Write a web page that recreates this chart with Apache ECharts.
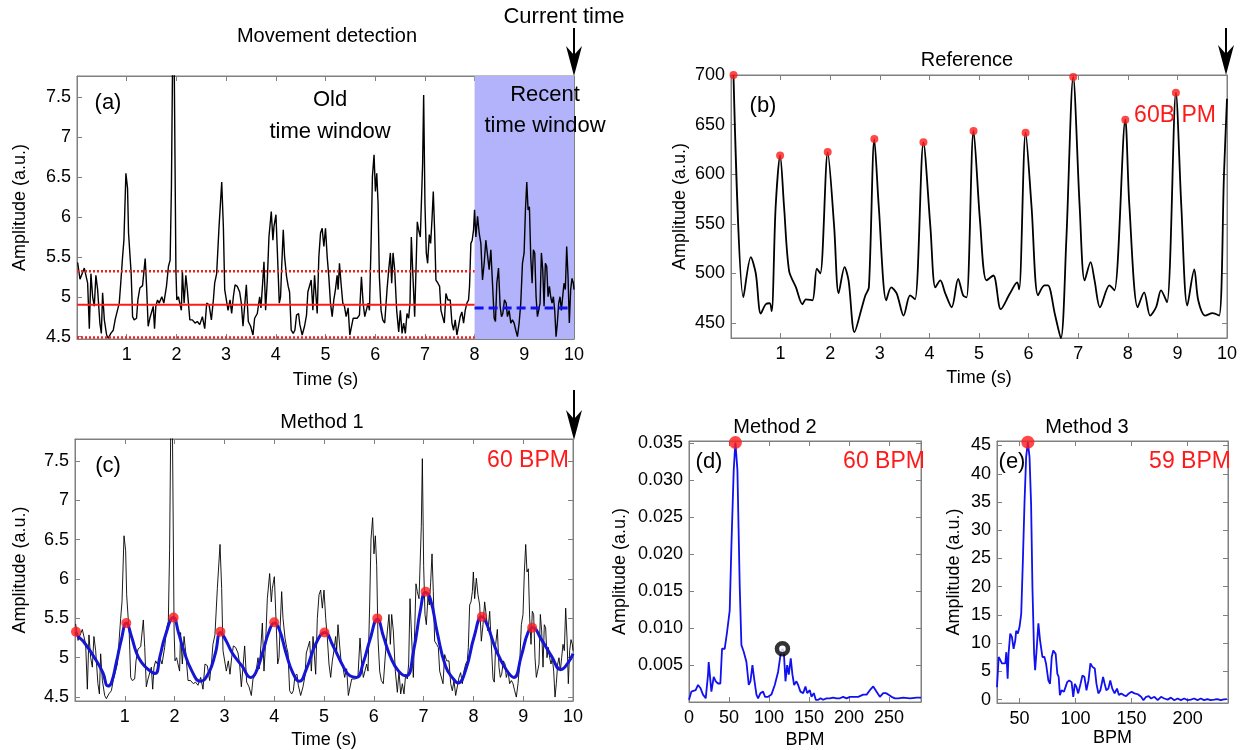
<!DOCTYPE html>
<html>
<head>
<meta charset="utf-8">
<script src="https://cdn.jsdelivr.net/npm/echarts@6/dist/echarts.min.js"></script>
<style>html,body{margin:0;background:#fff}#main{width:1240px;height:750px}</style>
</head>
<body>
<div id="main"></div>
<script>
const FONT = '"Liberation Sans", Arial, sans-serif';

// raw camera signal, [time s, amplitude]
const rawSignal = [[0.013,5.43],[0.06,5.22],[0.10,5.20],[0.147,5.36],[0.18,5.38],[0.214,5.17],[0.248,4.60],[0.28,5.29],[0.315,5.00],[0.348,4.88],[0.38,5.27],[0.415,5.09],[0.46,4.67],[0.49,4.54],[0.515,5.05],[0.55,4.71],[0.596,4.52],[0.63,4.48],[0.68,4.54],[0.73,4.58],[0.77,4.72],[0.80,4.72],[0.85,4.92],[0.88,5.17],[0.917,5.50],[0.944,5.71],[0.984,6.55],[1.017,6.36],[1.037,5.80],[1.064,5.82],[1.09,5.29],[1.118,4.75],[1.15,4.71],[1.198,4.73],[1.225,4.96],[1.265,5.11],[1.319,5.14],[1.352,5.13],[1.372,5.48],[1.40,5.13],[1.432,4.63],[1.466,4.73],[1.506,4.75],[1.533,4.88],[1.56,4.60],[1.586,4.88],[1.62,4.96],[1.653,4.92],[1.707,5.00],[1.747,4.92],[1.80,5.13],[1.84,5.38],[1.874,5.46],[1.90,6.38],[1.928,8.3],[1.955,8.0],[1.99,5.34],[2.008,4.96],[2.04,5.00],[2.075,5.01],[2.10,4.83],[2.12,5.32],[2.155,4.92],[2.19,5.27],[2.22,5.09],[2.27,4.71],[2.32,4.71],[2.376,4.67],[2.42,4.69],[2.47,4.65],[2.523,4.75],[2.57,4.60],[2.61,4.92],[2.657,4.90],[2.704,4.71],[2.744,4.96],[2.77,5.17],[2.81,5.29],[2.858,5.88],[2.912,6.44],[2.945,5.88],[2.972,5.09],[3.012,5.11],[3.039,4.83],[3.079,4.96],[3.112,4.79],[3.146,5.00],[3.18,5.15],[3.226,5.13],[3.273,5.06],[3.306,4.92],[3.34,4.63],[3.373,4.88],[3.407,5.15],[3.447,4.69],[3.494,4.63],[3.541,4.52],[3.574,4.73],[3.628,4.79],[3.675,5.00],[3.701,4.86],[3.735,5.17],[3.762,5.44],[3.795,4.83],[3.829,5.21],[3.862,5.75],[3.909,6.07],[3.942,5.71],[3.963,5.88],[4.003,6.03],[4.03,5.59],[4.07,4.92],[4.096,5.00],[4.116,5.34],[4.15,5.84],[4.177,5.50],[4.217,5.25],[4.25,5.13],[4.277,5.06],[4.31,4.58],[4.35,4.54],[4.384,4.58],[4.417,4.77],[4.458,4.79],[4.484,4.65],[4.531,4.52],[4.578,4.63],[4.618,4.77],[4.645,5.06],[4.685,5.06],[4.712,5.21],[4.746,4.83],[4.78,5.27],[4.806,5.27],[4.833,4.79],[4.866,5.50],[4.9,5.80],[4.933,5.86],[4.967,5.63],[5.0,5.86],[5.034,5.50],[5.067,5.25],[5.10,4.92],[5.134,4.75],[5.167,4.96],[5.2,5.09],[5.234,5.27],[5.254,5.09],[5.281,5.42],[5.315,5.15],[5.348,4.92],[5.382,4.88],[5.415,4.75],[5.455,4.86],[5.489,4.52],[5.522,4.54],[5.556,4.73],[5.589,4.75],[5.636,4.73],[5.683,4.77],[5.723,5.25],[5.757,4.92],[5.79,4.75],[5.83,4.73],[5.857,4.92],[5.884,4.83],[5.917,5.67],[5.944,6.51],[5.977,6.78],[6.004,6.32],[6.031,6.55],[6.058,6.17],[6.084,5.25],[6.118,4.83],[6.151,4.71],[6.191,4.67],[6.238,5.09],[6.272,5.34],[6.305,5.55],[6.332,5.17],[6.359,5.55],[6.392,5.34],[6.432,4.83],[6.473,4.56],[6.506,4.83],[6.54,4.54],[6.573,4.67],[6.606,4.54],[6.64,4.79],[6.673,4.73],[6.7,4.92],[6.727,5.75],[6.754,5.34],[6.794,4.75],[6.821,5.34],[6.847,5.94],[6.874,5.84],[6.908,5.75],[6.954,6.67],[6.975,7.53],[7.001,6.17],[7.028,5.55],[7.055,5.42],[7.088,5.78],[7.115,5.67],[7.142,5.96],[7.169,6.32],[7.195,5.84],[7.222,5.21],[7.262,5.17],[7.296,5.13],[7.323,4.83],[7.356,4.83],[7.39,4.67],[7.423,5.04],[7.463,4.96],[7.51,4.96],[7.544,4.67],[7.577,4.58],[7.61,4.71],[7.644,4.52],[7.677,4.50],[7.711,4.75],[7.744,4.81],[7.778,4.67],[7.811,4.83],[7.845,4.92],[7.878,4.96],[7.898,5.13],[7.925,5.67],[7.952,5.71],[7.979,5.84],[7.999,6.09],[8.025,5.75],[8.059,6.01],[8.092,5.80],[8.126,5.67],[8.159,5.21],[8.193,5.42],[8.226,5.71],[8.259,5.73],[8.293,5.34],[8.327,5.59],[8.36,5.17],[8.394,4.73],[8.42,4.69],[8.447,5.17],[8.481,5.36],[8.514,4.88],[8.541,4.75],[8.568,4.79],[8.601,4.96],[8.635,4.92],[8.661,4.75],[8.695,4.83],[8.728,4.67],[8.762,4.71],[8.795,4.67],[8.829,4.58],[8.862,4.50],[8.896,4.67],[8.929,4.92],[8.963,5.42],[8.996,5.55],[9.023,6.09],[9.05,6.44],[9.076,6.09],[9.103,6.13],[9.13,5.50],[9.157,5.17],[9.183,5.59],[9.21,5.55],[9.237,5.00],[9.264,4.75],[9.29,4.83],[9.317,4.92],[9.344,5.55],[9.371,5.34],[9.398,4.88],[9.424,5.42],[9.451,5.38],[9.478,5.00],[9.505,5.13],[9.531,5.00],[9.558,4.92],[9.585,5.00],[9.612,4.83],[9.639,4.50],[9.665,4.67],[9.692,4.92],[9.719,5.00],[9.746,4.83],[9.772,5.00],[9.799,5.17],[9.826,5.09],[9.853,5.63],[9.88,5.25],[9.906,4.67],[9.933,5.09],[9.96,5.23],[9.987,5.17],[10.0,5.09]];

// movement detection thresholds
const oldMean = 4.9, oldUpper = 5.32, oldLower = 4.49, recentMean = 4.86;
const oldWindow = [0, 8], recentWindow = [8, 10];

// reference sensor (b)
const refSignal = [[0.05,700],[0.25,476],[0.40,516.5],[0.50,500],[0.60,459.6],[0.70,469],[0.78,470],[0.82,462],[0.90,567],[0.99,619],[1.07,567],[1.17,503],[1.31,486],[1.44,469],[1.51,474],[1.64,473],[1.73,505],[1.80,500],[1.95,622],[2.08,547],[2.17,480],[2.29,506.5],[2.37,493],[2.49,441],[2.64,466],[2.71,478],[2.78,486],[2.89,635],[2.98,567],[3.13,473],[3.23,486],[3.34,480],[3.48,457.6],[3.61,478],[3.71,474],[3.88,632],[4.02,547],[4.12,486],[4.22,493],[4.32,480],[4.45,466],[4.58,494.6],[4.68,478],[4.75,476],[4.89,644],[5.02,553.5],[5.15,493],[5.29,498],[5.44,464],[5.62,479.5],[5.77,491],[5.81,484],[5.94,642],[6.06,567],[6.19,478],[6.32,488],[6.39,488],[6.53,459],[6.65,434.7],[6.76,533],[6.9,698],[7.03,567],[7.13,493],[7.25,511.5],[7.33,493],[7.44,466],[7.63,488],[7.73,483],[7.95,655],[8.03,570],[8.20,466],[8.33,481],[8.45,457.6],[8.57,466],[8.67,483],[8.79,471],[8.97,682],[9.08,567],[9.20,467.7],[9.34,504],[9.42,473],[9.56,457.6],[9.71,460],[9.84,457.6],[9.94,601],[10,676]];
const refPeaks = [[0.05,700],[0.99,619],[1.95,622.5],[2.89,635.4],[3.88,632.3],[4.89,643.7],[5.94,641.7],[6.9,698],[7.95,655],[8.97,682]];

// method 1 fitted curve (c)
const fitSignal = [[0.02,5.33],[0.054,5.28],[0.189,5.19],[0.391,5.00],[0.56,4.81],[0.661,4.64],[0.729,4.68],[0.83,4.94],[0.931,5.23],[1.032,5.44],[1.134,5.27],[1.235,5.06],[1.336,4.94],[1.471,4.85],[1.606,4.80],[1.707,5.02],[1.808,5.27],[1.977,5.51],[2.078,5.32],[2.179,5.10],[2.348,4.83],[2.517,4.70],[2.686,4.81],[2.82,5.06],[2.922,5.32],[3.023,5.23],[3.158,5.06],[3.36,4.89],[3.529,4.75],[3.63,4.81],[3.765,5.06],[3.9,5.34],[4.001,5.44],[4.102,5.36],[4.237,5.06],[4.372,4.81],[4.507,4.70],[4.642,4.85],[4.845,5.19],[5.013,5.32],[5.182,5.15],[5.385,4.89],[5.52,4.77],[5.654,4.75],[5.789,4.94],[5.924,5.23],[6.073,5.49],[6.194,5.27],[6.329,5.02],[6.498,4.83],[6.653,4.77],[6.802,5.10],[6.937,5.61],[7.038,5.83],[7.139,5.74],[7.274,5.32],[7.443,4.89],[7.611,4.72],[7.692,4.68],[7.848,4.85],[8.016,5.27],[8.171,5.52],[8.286,5.40],[8.455,5.10],[8.657,4.85],[8.812,4.75],[8.961,5.02],[9.096,5.32],[9.19,5.38],[9.366,5.23],[9.568,5.02],[9.757,4.85],[9.906,4.94],[10.0,5.05]];
const fitPeaks = [[0.02,5.33],[1.03,5.44],[1.98,5.51],[2.92,5.33],[4.0,5.45],[5.01,5.32],[6.07,5.50],[7.04,5.84],[8.17,5.52],[9.18,5.38]];

// method 2 spectrum (d)
const spectrum2 = [[0,0.0003],[2.9,0.0014],[8.3,0.0016],[11.3,0.0023],[14.2,0.0019],[17.5,0.001],[20.9,0.0005],[23.8,0.0037],[24.6,0.0054],[28,0.0014],[30.9,0.0034],[33.4,0.0028],[36.3,0.0025],[39.2,0.0025],[41.3,0.0072],[44.6,0.0072],[47.6,0.0095],[50.9,0.0124],[53,0.0211],[55.9,0.0314],[58,0.0351],[60.5,0.0314],[63.4,0.0157],[65.5,0.0077],[68.4,0.0068],[71.8,0.0054],[74.7,0.0023],[76.8,0.0028],[79.3,0.005],[81.4,0.0032],[84.3,0.001],[86.4,0.0005],[89.3,0.0012],[92.6,0.0014],[95.1,0.0007],[98.9,0.0007],[103,0.001],[107.2,0.0023],[111.4,0.0041],[114.3,0.0063],[116.8,0.0072],[118.5,0.0068],[120.6,0.0028],[122.7,0.005],[124.7,0.0037],[127.2,0.0059],[129.3,0.0037],[131.4,0.0023],[134.3,0.0028],[136.4,0.0023],[139.3,0.0014],[142.7,0.0012],[145.6,0.0021],[147.7,0.0012],[151,0.0016],[153.1,0.0007],[156,0.0012],[158.5,0.0003],[161.5,0.0003],[164.4,0.0005],[167.7,0.0003],[171.9,0.0005],[176.1,0.0005],[180.2,0.0006],[184.4,0.0005],[188.6,0.0005],[192.7,0.0007],[196.9,0.0005],[201.1,0.0007],[205.3,0.0007],[211.5,0.0007],[217.8,0.001],[222,0.001],[226.1,0.0016],[230.3,0.0021],[234.5,0.0014],[238.6,0.0007],[242.8,0.0012],[246.1,0.0012],[249.1,0.001],[253.2,0.0007],[257.4,0.0005],[261.6,0.0005],[267.8,0.0006],[276.2,0.0005],[284.5,0.0006],[290,0.0006]];
const peak2 = [58, 0.0351];
const harmonic2 = [116.8, 0.0072];

// method 3 spectrum (e)
const spectrum3 = [[30,2.2],[31.5,7.55],[33,7.0],[34.4,6.4],[35.9,6.7],[37.4,6.4],[38.3,8.4],[39.5,3.7],[40.3,8.1],[41.8,11.7],[43.3,11.1],[44.8,9.0],[46.3,10.5],[47.1,12.2],[48.6,11.7],[50.1,12.9],[51.6,15.2],[53.0,24.1],[54.5,34.7],[56,43.0],[57.5,45.6],[59,43.0],[60.4,34.7],[61.6,19.9],[63.1,8.1],[64,5.2],[65.5,9.3],[66.9,13.5],[68.4,10.5],[70.5,7.55],[72.3,7.55],[73.7,6.4],[75.8,3.4],[77.3,2.8],[78.8,7.55],[80.2,8.7],[81.1,9.0],[82.3,8.1],[83.8,4.6],[85,4.0],[86.1,0.8],[87.6,1.65],[89.7,1.4],[91.2,1.1],[92.6,3.1],[94.4,3.4],[96.5,3.1],[98,0.5],[99.4,2.8],[100.9,2.2],[102.4,1.1],[104.5,2.8],[106.2,4.3],[108,4.0],[109.8,1.65],[111.6,3.4],[113.3,6.4],[115.1,5.8],[117.2,5.5],[118.7,2.8],[120.4,1.1],[122.2,1.65],[124.6,4.0],[126,2.8],[127.5,1.65],[129.3,1.95],[131,3.4],[132.8,1.95],[134.9,1.1],[137,1.95],[138.7,0.8],[140.8,1.1],[142.9,0.8],[145.2,0.6],[147.6,1.1],[150,1.4],[152.6,1.1],[155.6,0.95],[158.5,0.5],[160.6,-0.1],[163,0.5],[165.3,0.6],[167.4,0.2],[170.4,0.5],[173.3,-0.1],[176.3,0.5],[179.2,0.2],[182.2,0],[185.1,0.35],[188.1,-0.1],[191,0.2],[194,-0.1],[197,0.2],[199.9,-0.1],[202.9,0],[205.8,0.2],[208.8,-0.1],[211.7,0.2],[214.7,-0.1],[217.6,0.1],[220.6,-0.1],[223.6,0],[226.5,0.1],[229.5,-0.1],[232.4,0.05],[235,0.1]];
const peak3 = [57.5, 45.6];

// tick labels
const timeTicks = [1, 2, 3, 4, 5, 6, 7, 8, 9, 10];
const ampTicks = [4.5, 5, 5.5, 6, 6.5, 7, 7.5];
const refTicks = [450, 500, 550, 600, 650, 700];
const bpmTicks2 = [0, 50, 100, 150, 200, 250];
const ampTicks2 = [0.005, 0.010, 0.015, 0.020, 0.025, 0.030, 0.035];
const bpmTicks3 = [50, 100, 150, 200];
const ampTicks3 = [0, 5, 10, 15, 20, 25, 30, 35, 40, 45];

const chart = echarts.init(document.getElementById('main'));
const GRAY = '#808080';
const grids = [], xAxes = [], yAxes = [];

function addPanel(box, x, y) {
    const idx = grids.length;
    grids.push({ left: box[0], top: box[1], width: box[2], height: box[3], show: true, borderColor: GRAY, borderWidth: 1, backgroundColor: '#fff' });
    const line = { show: true, onZero: false, lineStyle: { color: GRAY, width: 1 } };
    const tick = (vals) => ({ show: true, inside: true, length: 5, customValues: vals, lineStyle: { color: GRAY } });
    const nameStyle = { color: '#000', fontSize: 18, fontFamily: FONT };
    xAxes.push({
        type: 'value', gridIndex: idx, position: 'bottom', min: x.min, max: x.max,
        axisLine: line, axisTick: tick(x.ticks), splitLine: { show: false },
        axisLabel: { customValues: x.ticks, color: '#000', fontSize: 18, fontFamily: FONT, margin: 7 },
        name: x.name, nameLocation: 'middle', nameGap: x.gap, nameTextStyle: nameStyle
    });
    xAxes.push({
        type: 'value', gridIndex: idx, position: 'top', min: x.min, max: x.max,
        axisLine: line, axisTick: tick(x.ticks), splitLine: { show: false }, axisLabel: { show: false }
    });
    yAxes.push({
        type: 'value', gridIndex: idx, position: 'left', min: y.min, max: y.max,
        axisLine: line, axisTick: tick(y.ticks), splitLine: { show: false },
        axisLabel: { customValues: y.ticks, color: '#000', fontSize: 18, fontFamily: FONT, margin: 6, formatter: y.fmt },
        name: 'Amplitude (a.u.)', nameLocation: 'middle', nameGap: y.gap, nameTextStyle: nameStyle
    });
    yAxes.push({
        type: 'value', gridIndex: idx, position: 'right', min: y.min, max: y.max,
        axisLine: line, axisTick: tick(y.ticks), splitLine: { show: false }, axisLabel: { show: false }
    });
    return { xAxisIndex: idx * 2, yAxisIndex: idx * 2 };
}

const pa = addPanel([77, 76, 497, 263], { min: 0, max: 10, ticks: timeTicks, name: 'Time (s)', gap: 32 },
    { min: 4.47, max: 7.77, ticks: ampTicks, gap: 48 });
const pb = addPanel([731, 75, 497, 263], { min: 0, max: 10, ticks: timeTicks, name: 'Time (s)', gap: 31 },
    { min: 435, max: 700, ticks: refTicks, gap: 42 });
const pc = addPanel([75, 439, 498, 263], { min: 0, max: 10, ticks: timeTicks, name: 'Time (s)', gap: 30 },
    { min: 4.45, max: 7.78, ticks: ampTicks, gap: 46 });
const pd = addPanel([689, 441, 232, 262], { min: 0, max: 290, ticks: bpmTicks2, name: 'BPM', gap: 29 },
    { min: 0, max: 0.0353, ticks: ampTicks2, gap: 60, fmt: v => v.toFixed(3) });
const pe = addPanel([997, 441, 231, 262], { min: 30, max: 236, ticks: bpmTicks3, name: 'BPM', gap: 21 },
    { min: -0.6, max: 45.8, ticks: ampTicks3, gap: 34 });

const hline = (x0, x1, v) => [[x0, v], [x1, v]];
const RED = '#ff1a1a', BLUE = '#1010f0';

const series = [
    // (a) shaded recent window
    Object.assign({ type: 'line', data: [], silent: true, z: 1,
        markArea: { silent: true, itemStyle: { color: '#b3b3fb', opacity: 1 },
            data: [[{ xAxis: recentWindow[0] }, { xAxis: recentWindow[1] }]] } }, pa),
    Object.assign({ type: 'line', data: rawSignal, showSymbol: false, z: 3,
        lineStyle: { color: '#000', width: 1.4 } }, pa),
    Object.assign({ type: 'line', data: hline(oldWindow[0], oldWindow[1], oldMean), showSymbol: false, z: 4,
        lineStyle: { color: RED, width: 2 } }, pa),
    Object.assign({ type: 'line', data: hline(oldWindow[0], oldWindow[1], oldUpper), showSymbol: false, z: 4,
        lineStyle: { color: RED, width: 2.5, type: [2, 2] } }, pa),
    Object.assign({ type: 'line', data: hline(oldWindow[0], oldWindow[1], oldLower), showSymbol: false, z: 4,
        lineStyle: { color: RED, width: 2.5, type: [2, 2] } }, pa),
    Object.assign({ type: 'line', data: hline(recentWindow[0], 9.92, recentMean), showSymbol: false, z: 4,
        lineStyle: { color: BLUE, width: 3, type: [9, 5] } }, pa),
    // (b)
    Object.assign({ type: 'line', data: refSignal, showSymbol: false, smooth: 0.3, z: 3,
        lineStyle: { color: '#000', width: 1.8 } }, pb),
    Object.assign({ type: 'scatter', data: refPeaks, symbolSize: 8, clip: false, z: 5,
        itemStyle: { color: RED } }, pb),
    // (c)
    Object.assign({ type: 'line', data: rawSignal, showSymbol: false, z: 3,
        lineStyle: { color: '#000', width: 0.9 } }, pc),
    Object.assign({ type: 'line', data: fitSignal, showSymbol: false, smooth: 0.5, z: 4,
        lineStyle: { color: '#1515d6', width: 3 } }, pc),
    Object.assign({ type: 'scatter', data: fitPeaks, symbolSize: 10, clip: false, z: 5,
        itemStyle: { color: RED } }, pc),
    // (d)
    Object.assign({ type: 'line', data: spectrum2, showSymbol: false, z: 3,
        lineStyle: { color: BLUE, width: 1.8 } }, pd),
    Object.assign({ type: 'scatter', data: [peak2], symbolSize: 13, clip: false, z: 5,
        itemStyle: { color: RED } }, pd),
    Object.assign({ type: 'scatter', data: [harmonic2], symbolSize: 11, clip: false, z: 5,
        itemStyle: { color: '#fff', borderColor: '#000', borderWidth: 4.5 } }, pd),
    // (e)
    Object.assign({ type: 'line', data: spectrum3, showSymbol: false, z: 3,
        lineStyle: { color: BLUE, width: 1.8 } }, pe),
    Object.assign({ type: 'scatter', data: [peak3], symbolSize: 13, clip: false, z: 5,
        itemStyle: { color: RED } }, pe)
];

function label(text, x, y, size, color) {
    return { type: 'text', z: 100, style: { text: text, x: x, y: y, align: 'center', verticalAlign: 'middle',
        font: size + 'px ' + FONT, fill: color || '#000' } };
}
function arrow(x, yTop, yTip) {
    return { type: 'group', z: 100, children: [
        { type: 'line', shape: { x1: x, y1: yTop, x2: x, y2: yTip - 20 }, style: { stroke: '#000', lineWidth: 2 } },
        { type: 'polygon', shape: { points: [[x, yTip], [x - 8, yTip - 30], [x, yTip - 21], [x + 8, yTip - 30]] },
            style: { fill: '#000' } }
    ] };
}

const graphics = [
    label('Movement detection', 327, 36, 20),
    label('Current time', 564, 17, 22),
    label('Old', 330, 100, 22),
    label('time window', 330, 132, 22),
    label('Recent', 545, 95, 22),
    label('time window', 545, 126, 22),
    label('(a)', 108, 103, 22),
    label('Reference', 967, 60, 20),
    label('(b)', 763, 106, 22),
    label('60B PM', 1175, 116, 23, RED),
    label('Method 1', 322, 422, 20),
    label('(c)', 108, 466, 22),
    label('60 BPM', 528, 461, 23, RED),
    label('Method 2', 775, 427, 20),
    label('(d)', 709, 462, 22),
    label('60 BPM', 884, 462, 23, RED),
    label('Method 3', 1087, 427, 20),
    label('(e)', 1012, 462, 22),
    label('59 BPM', 1190, 462, 23, RED),
    arrow(574, 28, 76),
    arrow(1226, 28, 75),
    arrow(574, 390, 440)
];

chart.setOption({
    animation: false,
    backgroundColor: '#fff',
    grid: grids,
    xAxis: xAxes,
    yAxis: yAxes,
    series: series,
    graphic: graphics
});
</script>
</body>
</html>
